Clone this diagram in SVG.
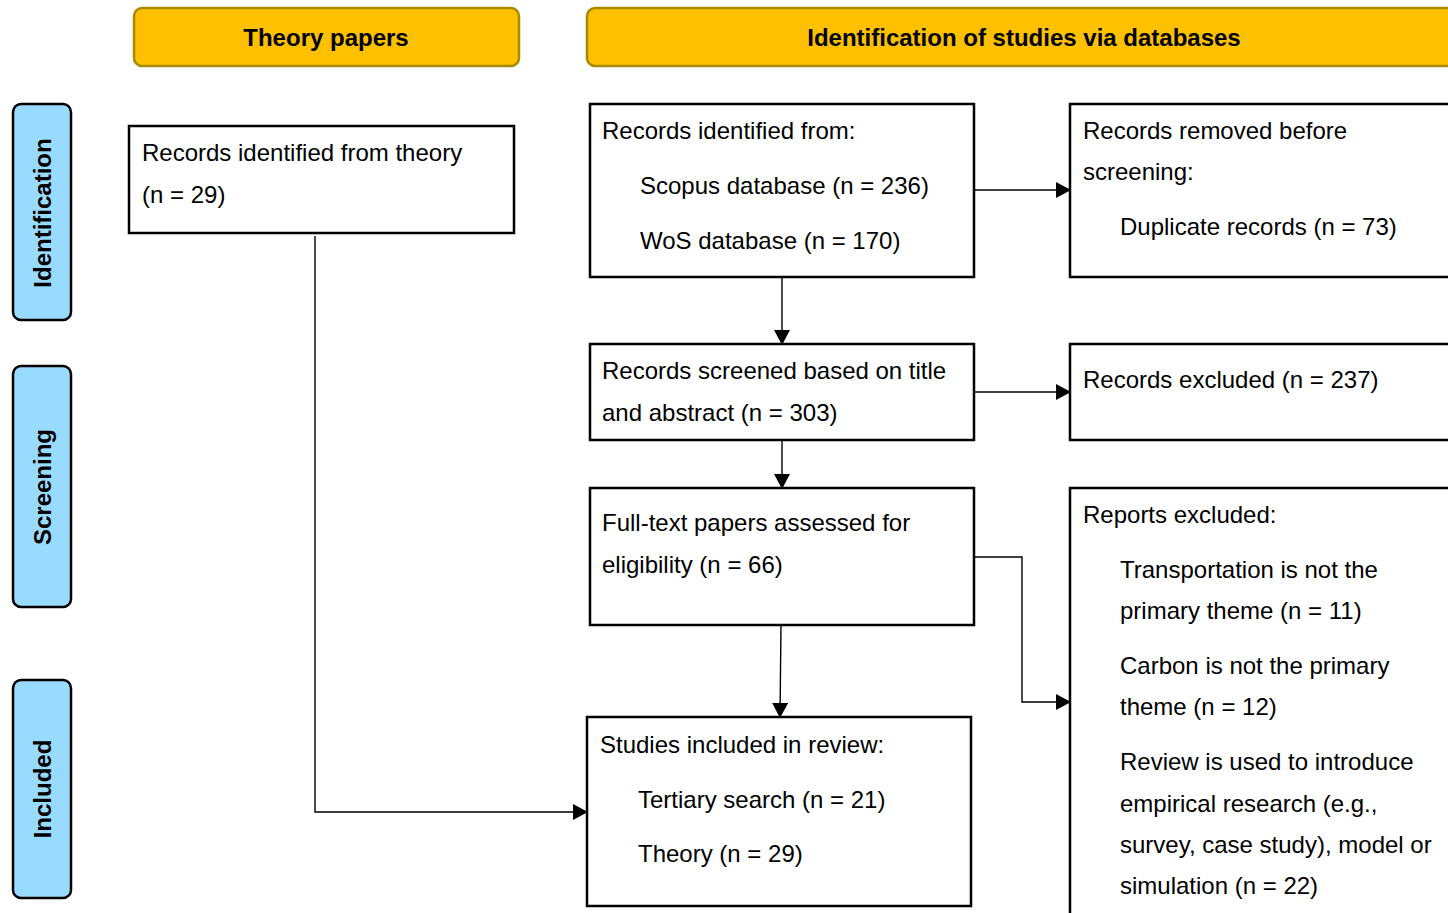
<svg xmlns="http://www.w3.org/2000/svg" width="1448" height="913" viewBox="0 0 1448 913">
  <defs>
    <marker id="arrow" markerWidth="16" markerHeight="16" refX="14" refY="8" orient="auto" markerUnits="userSpaceOnUse">
      <path d="M0,0 L15,8 L0,16 Z" fill="#000"/>
    </marker>
    <style>
      .hdr { fill: #FFC000; stroke: #A88A00; stroke-width: 2.5; }
      .phase { fill: #99DAFF; stroke: #000; stroke-width: 2.5; }
      .box { fill: #fff; stroke: #000; stroke-width: 2.5; }
      .bold { font-family: "Liberation Sans", Arial, sans-serif; font-weight: bold; font-size: 24px; fill: #000; }
      .txt { font-family: "Liberation Sans", Arial, sans-serif; font-size: 24px; fill: #000; }
      .conn { fill: none; stroke: #000; stroke-width: 1.4; }
    </style>
  </defs>
  <rect width="1448" height="913" fill="#fff"/>

  <!-- column headers -->
  <g id="hdr-theory">
    <rect class="hdr" x="134" y="8" width="385" height="58" rx="8"/>
    <text class="bold" x="326" y="46" text-anchor="middle">Theory papers</text>
  </g>
  <g id="hdr-databases">
    <rect class="hdr" x="587" y="8" width="880" height="58" rx="8"/>
    <text class="bold" x="1024" y="46" text-anchor="middle">Identification of studies via databases</text>
  </g>

  <!-- phase labels -->
  <g id="phase-identification">
    <rect class="phase" x="13" y="104" width="58" height="216" rx="8"/>
    <text class="bold" transform="translate(51,213) rotate(-90)" text-anchor="middle">Identification</text>
  </g>
  <g id="phase-screening">
    <rect class="phase" x="13" y="366" width="58" height="241" rx="8"/>
    <text class="bold" transform="translate(51,487) rotate(-90)" text-anchor="middle">Screening</text>
  </g>
  <g id="phase-included">
    <rect class="phase" x="13" y="680" width="58" height="218" rx="8"/>
    <text class="bold" transform="translate(51,789) rotate(-90)" text-anchor="middle">Included</text>
  </g>

  <!-- connectors -->
  <g id="connectors">
    <polyline class="conn" points="315,236 315,812 587,812" marker-end="url(#arrow)"/>
    <line class="conn" x1="974" y1="190" x2="1070" y2="190" marker-end="url(#arrow)"/>
    <line class="conn" x1="782" y1="277" x2="782" y2="344" marker-end="url(#arrow)"/>
    <line class="conn" x1="974" y1="392" x2="1070" y2="392" marker-end="url(#arrow)"/>
    <line class="conn" x1="782" y1="440" x2="782" y2="488" marker-end="url(#arrow)"/>
    <polyline class="conn" points="974,557 1022,557 1022,702 1070,702" marker-end="url(#arrow)"/>
    <line class="conn" x1="781" y1="625" x2="780" y2="717" marker-end="url(#arrow)"/>
  </g>

  <!-- nodes -->
  <g id="theory-records">
    <rect class="box" x="129" y="126" width="385" height="107"/>
    <text class="txt" x="142" y="161">Records identified from theory</text>
    <text class="txt" x="142" y="203">(n = 29)</text>
  </g>
  <g id="db-records">
    <rect class="box" x="590" y="104" width="384" height="173"/>
    <text class="txt" x="602" y="139">Records identified from:</text>
    <text class="txt" x="640" y="194">Scopus database (n = 236)</text>
    <text class="txt" x="640" y="249">WoS database (n = 170)</text>
  </g>
  <g id="removed">
    <rect class="box" x="1070" y="104" width="400" height="173"/>
    <text class="txt" x="1083" y="139">Records removed before</text>
    <text class="txt" x="1083" y="180">screening:</text>
    <text class="txt" x="1120" y="235">Duplicate records (n = 73)</text>
  </g>
  <g id="screened">
    <rect class="box" x="590" y="344" width="384" height="96"/>
    <text class="txt" x="602" y="379">Records screened based on title</text>
    <text class="txt" x="602" y="421">and abstract (n = 303)</text>
  </g>
  <g id="excluded">
    <rect class="box" x="1070" y="344" width="400" height="96"/>
    <text class="txt" x="1083" y="388">Records excluded (n = 237)</text>
  </g>
  <g id="fulltext">
    <rect class="box" x="590" y="488" width="384" height="137"/>
    <text class="txt" x="602" y="531">Full-text papers assessed for</text>
    <text class="txt" x="602" y="573">eligibility (n = 66)</text>
  </g>
  <g id="reports-excluded">
    <rect class="box" x="1070" y="488" width="400" height="440"/>
    <text class="txt" x="1083" y="523">Reports excluded:</text>
    <text class="txt" x="1120" y="578">Transportation is not the</text>
    <text class="txt" x="1120" y="619">primary theme (n = 11)</text>
    <text class="txt" x="1120" y="674">Carbon is not the primary</text>
    <text class="txt" x="1120" y="715">theme (n = 12)</text>
    <text class="txt" x="1120" y="770">Review is used to introduce</text>
    <text class="txt" x="1120" y="812">empirical research (e.g.,</text>
    <text class="txt" x="1120" y="853">survey, case study), model or</text>
    <text class="txt" x="1120" y="894">simulation (n = 22)</text>
  </g>
  <g id="included">
    <rect class="box" x="587" y="717" width="384" height="189"/>
    <text class="txt" x="600" y="753">Studies included in review:</text>
    <text class="txt" x="638" y="808">Tertiary search (n = 21)</text>
    <text class="txt" x="638" y="862">Theory (n = 29)</text>
  </g>
</svg>
